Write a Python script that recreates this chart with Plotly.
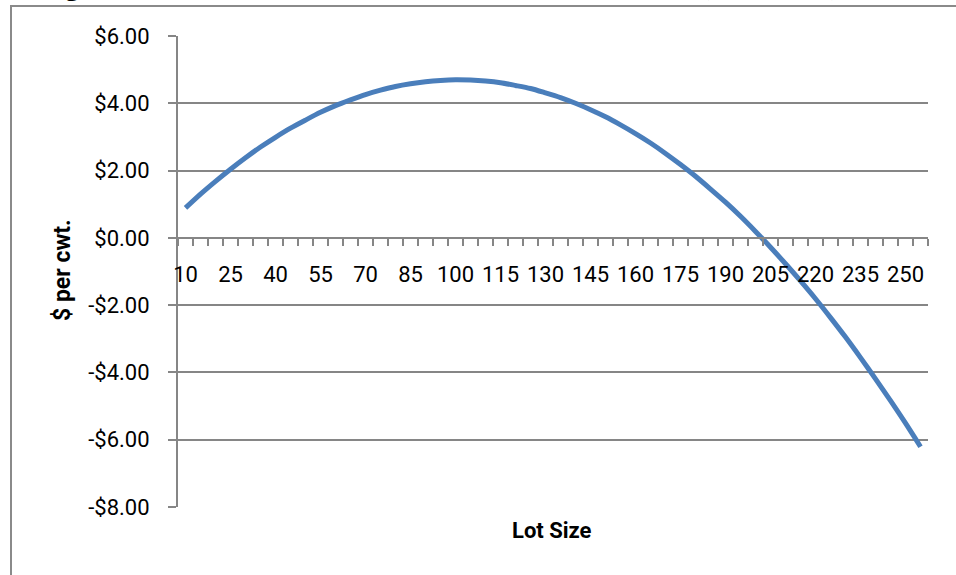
import plotly.graph_objects as go

# ---- data ----
lot_size = [10, 15, 20, 25, 30, 35, 40, 45, 50, 55, 60, 65, 70, 75, 80, 85, 90, 95, 100,
            105, 110, 115, 120, 125, 130, 135, 140, 145, 150, 155, 160, 165, 170, 175,
            180, 185, 190, 195, 200, 205, 210, 215, 220, 225, 230, 235, 240, 245, 250, 255]
dollars_per_cwt = [0.89, 1.30, 1.68, 2.04, 2.38, 2.70, 2.99, 3.26, 3.50, 3.73, 3.93, 4.10,
                   4.26, 4.39, 4.50, 4.58, 4.64, 4.68, 4.70, 4.69, 4.66, 4.61, 4.53, 4.44,
                   4.31, 4.17, 4.00, 3.81, 3.60, 3.36, 3.10, 2.82, 2.51, 2.18, 1.83, 1.45,
                   1.06, 0.64, 0.19, -0.28, -0.77, -1.28, -1.81, -2.37, -2.95, -3.56, -4.19,
                   -4.84, -5.51, -6.21]
x_tick_labels = [10, 25, 40, 55, 70, 85, 100, 115, 130, 145, 160, 175, 190, 205, 220, 235, 250]
y_tick_vals = [6, 4, 2, 0, -2, -4, -6, -8]
y_tick_text = ["$6.00", "$4.00", "$2.00", "$0.00", "-$2.00", "-$4.00", "-$6.00", "-$8.00"]

# ---- layout geometry ----
W, H = 956, 575
L, R, T, B = 178, 28, 36, 68
PW, PH = W - L - R, H - T - B


def px2x(px):
    return (px - L) / PW


def px2y(py):
    return (H - B - py) / PH


GRAY = "#868686"
BLUE = "#4A7EBB"
TICKFONT = dict(family="Roboto", size=22, color="black")

fig = go.Figure()
fig.add_trace(go.Scatter(
    x=lot_size, y=dollars_per_cwt, mode="lines",
    line=dict(color=BLUE, width=5, shape="spline", smoothing=0.8),
    hoverinfo="x+y", showlegend=False,
))

fig.update_layout(
    width=W, height=H,
    margin=dict(l=L, r=R, t=T, b=B, pad=0),
    paper_bgcolor="white", plot_bgcolor="white",
    xaxis=dict(
        range=[7.5, 257.5], anchor="free", position=8 / 14,
        showline=True, linecolor=GRAY, linewidth=2,
        showgrid=False, zeroline=False,
        tickmode="array", tickvals=x_tick_labels, ticktext=[str(v) for v in x_tick_labels],
        ticks="outside", ticklen=7, tickcolor="rgba(0,0,0,0)",
        ticklabelstandoff=10,
        tickfont=TICKFONT,
        minor=dict(tickmode="linear", tick0=7.5, dtick=5, ticks="outside", ticklen=7,
                   tickwidth=1.5, tickcolor=GRAY, showgrid=False),
    ),
    yaxis=dict(
        range=[-8, 6], domain=[0, 1],
        showline=True, linecolor=GRAY, linewidth=2,
        showgrid=True, gridcolor=GRAY, gridwidth=2,
        zeroline=False,
        tickmode="array", tickvals=y_tick_vals, ticktext=y_tick_text,
        ticks="outside", ticklen=8, tickwidth=2, tickcolor=GRAY,
        ticklabelstandoff=14,
        tickfont=TICKFONT,
    ),
    shapes=[dict(type="rect", xref="paper", yref="paper", layer="below",
                 x0=px2x(11), x1=px2x(1010), y0=px2y(640), y1=px2y(6),
                 line=dict(color="#8a8a8a", width=2), fillcolor="rgba(0,0,0,0)")],
    annotations=[
        dict(text="<b>$ per cwt.</b>", xref="paper", yref="paper",
             x=px2x(62), y=px2y(270), textangle=-90, showarrow=False,
             font=dict(family="Roboto", size=23, color="black"),
             xanchor="center", yanchor="middle"),
        dict(text="<b>Lot Size</b>", xref="paper", yref="paper",
             x=px2x(552), y=px2y(530), showarrow=False,
             font=dict(family="Roboto", size=22, color="black"),
             xanchor="center", yanchor="middle"),
        dict(text="<b>g</b>", xref="paper", yref="paper",
             x=px2x(63), y=px2y(3), showarrow=False,
             font=dict(family="Liberation Serif", size=29, color="black"),
             xanchor="left", yanchor="bottom"),
        dict(text="<b>($ per cwt.)</b>", xref="paper", yref="paper",
             x=px2x(698), y=px2y(3), showarrow=False,
             font=dict(family="Liberation Serif", size=29, color="black"),
             xanchor="left", yanchor="bottom"),
    ],
)

fig.write_html("out.html")
